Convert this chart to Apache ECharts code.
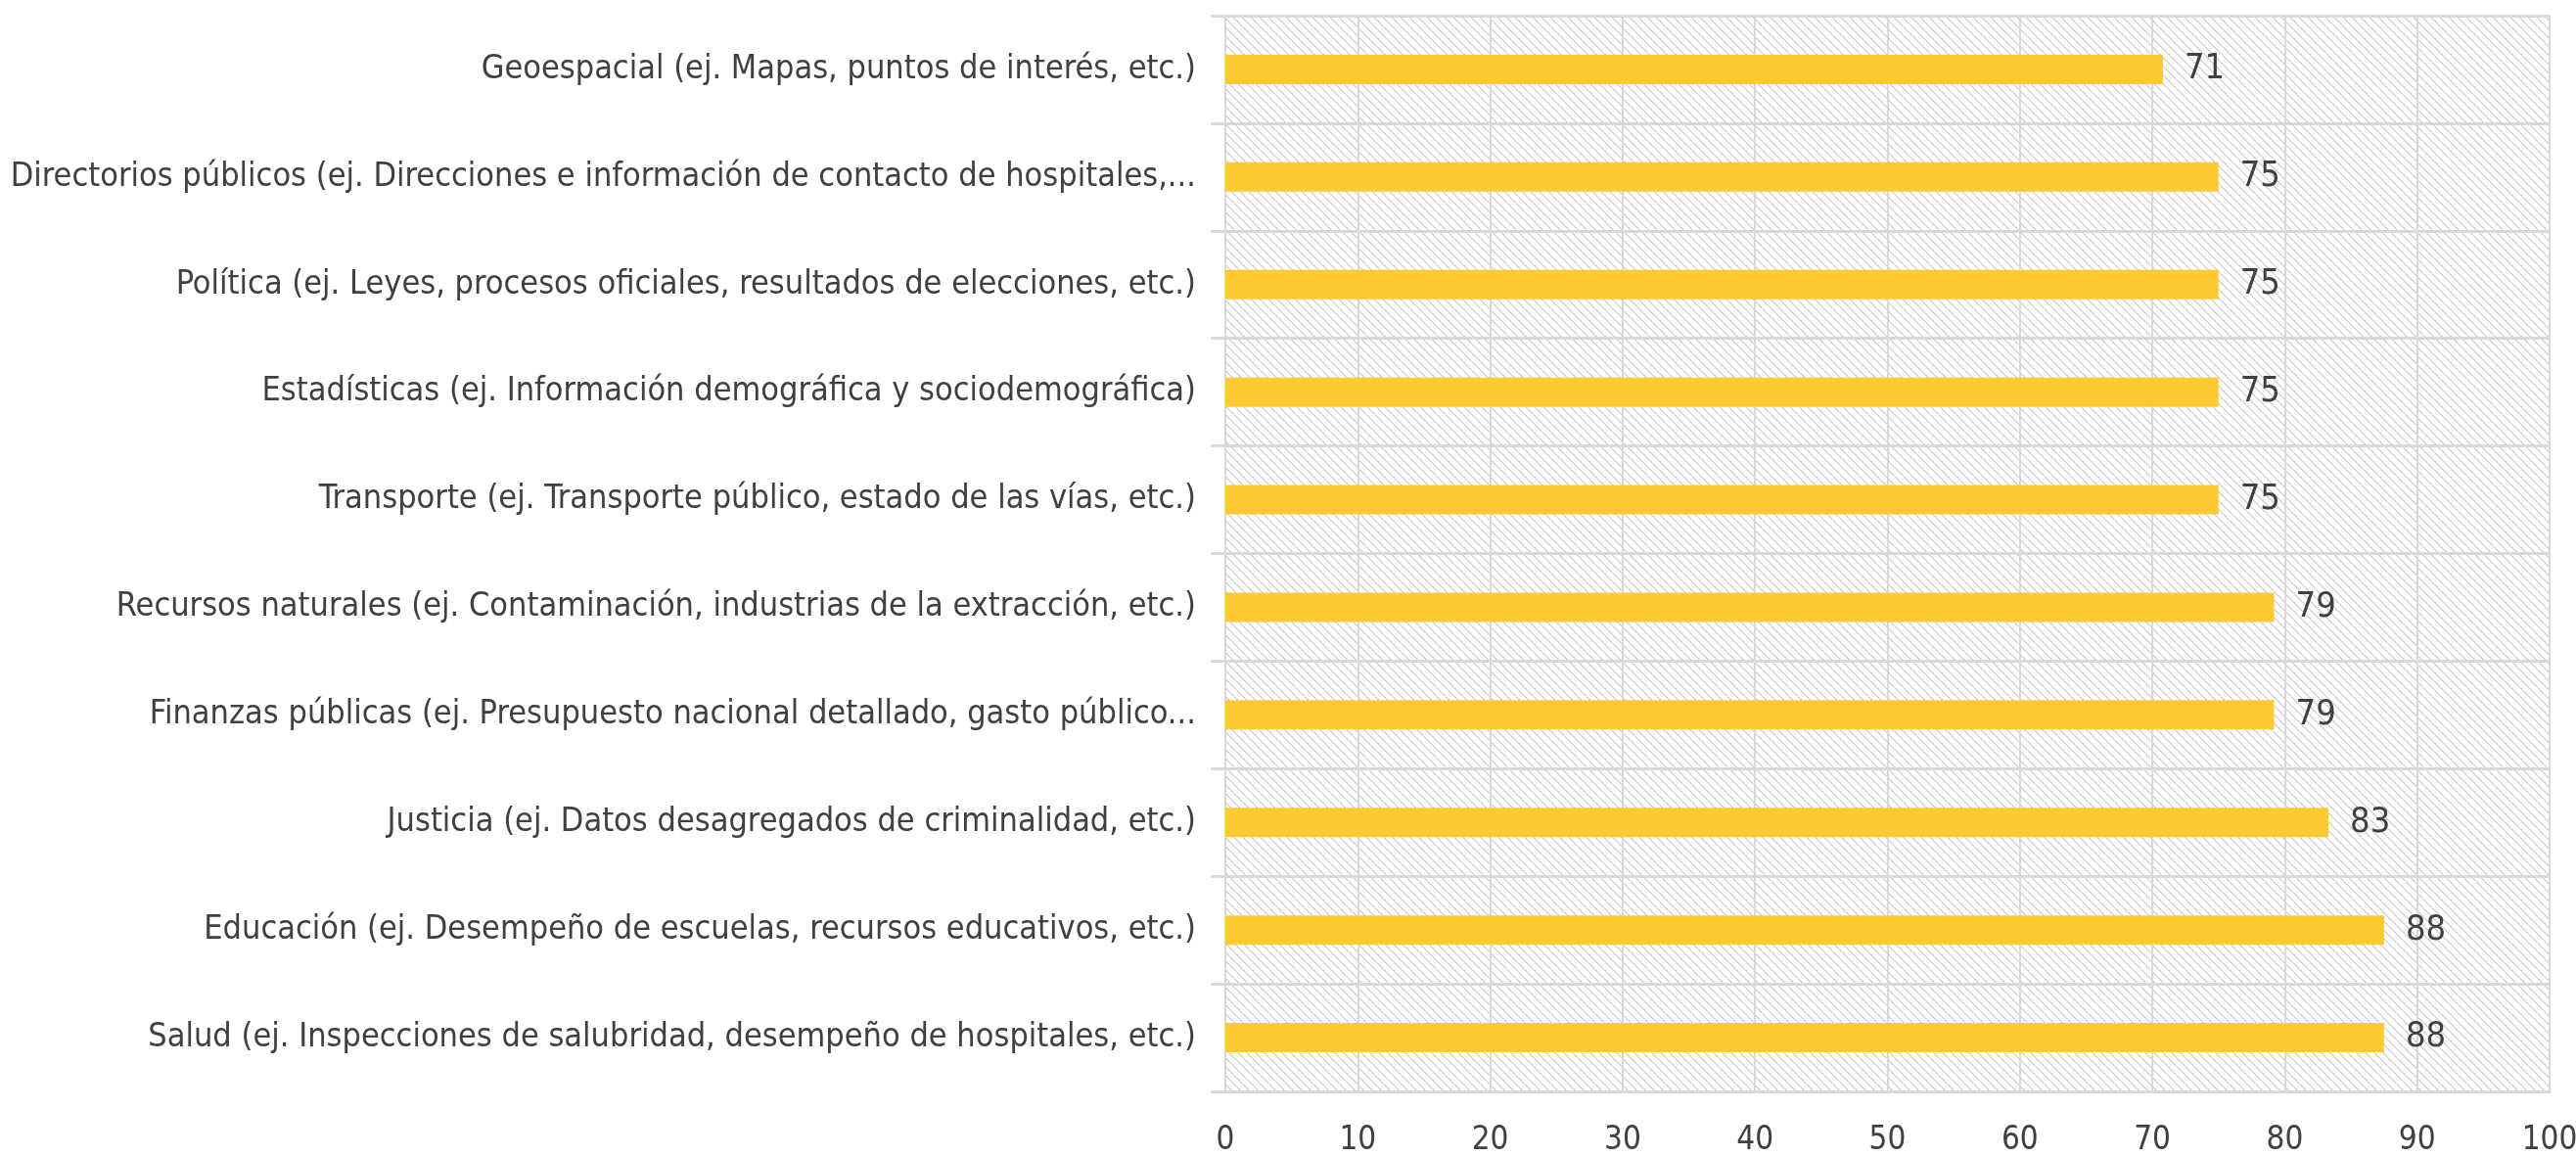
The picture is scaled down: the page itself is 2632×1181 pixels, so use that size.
<!DOCTYPE html>
<html>
<head>
<meta charset="utf-8">
<script src="https://cdn.jsdelivr.net/npm/echarts@6/dist/echarts.min.js"></script>
<style>
  html, body { margin: 0; padding: 0; background: #ffffff; }
  #chart { width: 2632px; height: 1181px; }
</style>
</head>
<body>
<div id="chart"></div>
<script>
// categories, top to bottom
const categories = [
  "Geoespacial (ej. Mapas, puntos de interés, etc.)",
  "Directorios públicos (ej. Direcciones e información de contacto de hospitales,...",
  "Política (ej. Leyes, procesos oficiales, resultados de elecciones, etc.)",
  "Estadísticas (ej. Información demográfica y sociodemográfica)",
  "Transporte (ej. Transporte público, estado de las vías, etc.)",
  "Recursos naturales (ej. Contaminación, industrias de la extracción, etc.)",
  "Finanzas públicas (ej. Presupuesto nacional detallado, gasto público...",
  "Justicia (ej. Datos desagregados de criminalidad, etc.)",
  "Educación (ej. Desempeño de escuelas, recursos educativos, etc.)",
  "Salud (ej. Inspecciones de salubridad, desempeño de hospitales, etc.)"
];
const values = [70.8, 75, 75, 75, 75, 79.2, 79.2, 83.3, 87.5, 87.5];
const xTicks = [0, 10, 20, 30, 40, 50, 60, 70, 80, 90, 100];

const FONT = "'Liberation Sans Narrow', 'DejaVu Sans Condensed', sans-serif";
const TEXT = "#404040";
const GRID = "#d9d9d9";

// hatched plot background
function hatch() {
  const c = document.createElement("canvas");
  c.width = 9; c.height = 9;
  const ctx = c.getContext("2d");
  ctx.fillStyle = "#ffffff";
  ctx.fillRect(0, 0, 9, 9);
  ctx.fillStyle = "#d0d0d0";
  for (let i = 0; i < 9; i++) {
    ctx.fillRect(i, i, 1, 1);
    ctx.fillStyle = i % 2 ? "#d0d0d0" : "#e6e6e6";
    ctx.fillRect((i + 1) % 9, i, 1, 1);
    ctx.fillStyle = "#d0d0d0";
  }
  return c;
}

const chart = echarts.init(document.getElementById("chart"));
chart.setOption({
  animation: false,
  textStyle: { fontFamily: FONT },
  grid: {
    left: 1252, right: 27, top: 16, bottom: 66,
    outerBoundsMode: "none",
    containLabel: false,
    show: true,
    borderWidth: 0,
    backgroundColor: { image: hatch(), repeat: "repeat" }
  },
  xAxis: {
    type: "value",
    min: 0, max: 100, interval: 10,
    axisLine: { show: true, lineStyle: { color: GRID, width: 3 } },
    axisTick: { show: false },
    splitLine: { show: true, lineStyle: { color: GRID, width: 2 } },
    axisLabel: {
      color: TEXT, fontSize: 33, fontFamily: FONT, margin: 34,
      formatter: (v) => xTicks.includes(v) ? String(v) : ""
    }
  },
  yAxis: {
    type: "category",
    inverse: true,
    data: categories,
    axisLine: { show: true, lineStyle: { color: GRID, width: 2 } },
    axisTick: { show: true, length: 15, lineStyle: { color: GRID, width: 3 } },
    splitLine: { show: true, lineStyle: { color: GRID, width: 3 } },
    axisLabel: { color: TEXT, fontSize: 34, fontFamily: FONT, margin: 30 }
  },
  series: [{
    type: "bar",
    data: values,
    barWidth: 30,
    itemStyle: { color: "#FECA32" },
    label: {
      show: true,
      position: "right",
      distance: 22,
      color: TEXT,
      fontSize: 36,
      fontFamily: FONT,
      formatter: (p) => String(Math.round(p.value))
    }
  }]
});
</script>
</body>
</html>
